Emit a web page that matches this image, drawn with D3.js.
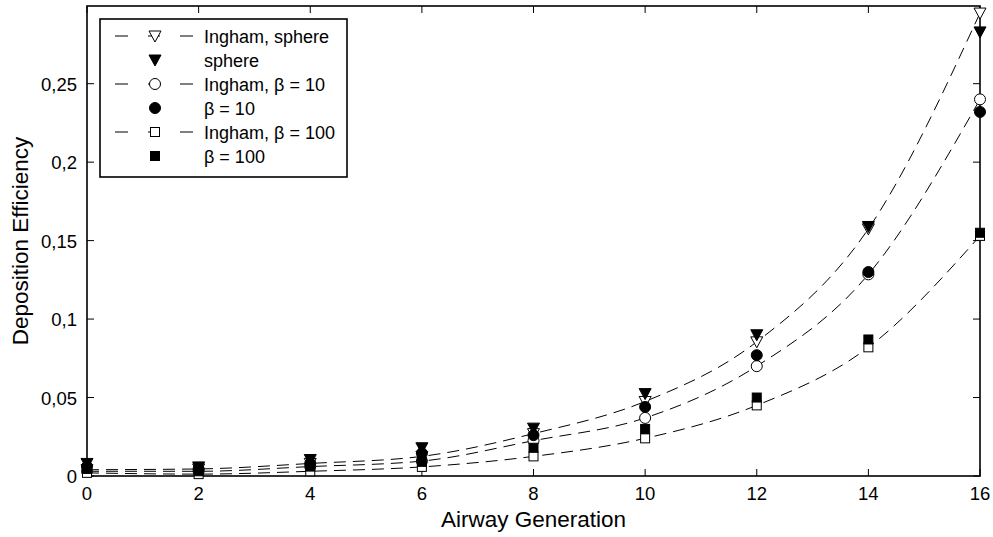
<!DOCTYPE html>
<html><head><meta charset="utf-8">
<script src="https://cdn.jsdelivr.net/npm/d3@7"></script>
<style>
html,body{margin:0;padding:0;background:#fff;}
text{font-family:Arial,"Liberation Sans",Helvetica,sans-serif;fill:#000;}
</style></head>
<body><svg id="chart" width="993" height="537"></svg>
<script>
const generations = [0, 2, 4, 6, 8, 10, 12, 14, 16];
const inghamSphere = [0.0040, 0.0045, 0.0080, 0.0125, 0.0270, 0.0475, 0.0855, 0.1575, 0.2950];
const sphere       = [0.0080, 0.0058, 0.0105, 0.0180, 0.0305, 0.0525, 0.0900, 0.1590, 0.2830];
const inghamB10    = [0.0030, 0.0030, 0.0060, 0.0095, 0.0225, 0.0370, 0.0700, 0.1285, 0.2400];
const beta10       = [0.0060, 0.0045, 0.0080, 0.0145, 0.0260, 0.0440, 0.0770, 0.1300, 0.2320];
const inghamB100   = [0.0020, 0.0012, 0.0030, 0.0058, 0.0125, 0.0240, 0.0450, 0.0820, 0.1530];
const beta100      = [0.0045, 0.0030, 0.0060, 0.0090, 0.0180, 0.0300, 0.0500, 0.0870, 0.1550];
const xTicks = [0, 2, 4, 6, 8, 10, 12, 14, 16];
const yTicks = [0, 0.05, 0.1, 0.15, 0.2, 0.25];
const yTickLabels = ["0", "0,05", "0,1", "0,15", "0,2", "0,25"];
const legendLabels = ["Ingham, sphere", "sphere", "Ingham, \u03B2 = 10", "\u03B2 = 10", "Ingham, \u03B2 = 100", "\u03B2 = 100"];

const svg = d3.select("#chart");
const L = 87, R = 980, T = 6, B = 476;
const x = d3.scaleLinear().domain([0, 16]).range([L, R]);
const y = d3.scaleLinear().domain([0, 0.2995]).range([B, T]);

const tri = "M-6,-5L6,-5L0,6Z";
function marker(g, type, filled, cx, cy) {
  const fill = filled ? "#000" : "#fff";
  if (type === "tri") {
    g.append("path").attr("d", tri).attr("transform", `translate(${cx},${cy})`)
      .attr("fill", fill).attr("stroke", "#000").attr("stroke-width", 1);
  } else if (type === "circ") {
    g.append("circle").attr("cx", cx).attr("cy", cy).attr("r", 5.5)
      .attr("fill", fill).attr("stroke", "#000").attr("stroke-width", 1);
  } else {
    g.append("rect").attr("x", cx - 4.5).attr("y", cy - 4.5).attr("width", 9).attr("height", 9)
      .attr("fill", fill).attr("stroke", "#000").attr("stroke-width", 1);
  }
}

// axes box and ticks
const axes = svg.append("g");
axes.append("rect").attr("x", L).attr("y", T).attr("width", R - L).attr("height", B - T)
  .attr("fill", "none").attr("stroke", "#000").attr("stroke-width", 1.6);
xTicks.forEach(t => {
  axes.append("line").attr("x1", x(t)).attr("x2", x(t)).attr("y1", B).attr("y2", B - 7).attr("stroke", "#000");
  axes.append("line").attr("x1", x(t)).attr("x2", x(t)).attr("y1", T).attr("y2", T + 7).attr("stroke", "#000");
  axes.append("text").attr("x", x(t)).attr("y", B + 24).attr("text-anchor", "middle")
    .attr("font-size", 18.5).text(t);
});
yTicks.forEach((t, i) => {
  axes.append("line").attr("x1", L).attr("x2", L + 7).attr("y1", y(t)).attr("y2", y(t)).attr("stroke", "#000");
  axes.append("line").attr("x1", R).attr("x2", R - 7).attr("y1", y(t)).attr("y2", y(t)).attr("stroke", "#000");
  axes.append("text").attr("x", L - 10).attr("y", y(t) + 7).attr("text-anchor", "end")
    .attr("font-size", 18.5).text(yTickLabels[i]);
});
svg.append("text").attr("x", (L + R) / 2).attr("y", 527).attr("text-anchor", "middle")
  .attr("font-size", 22.5).text("Airway Generation");
svg.append("text").attr("transform", `translate(28,${(T + B) / 2}) rotate(-90)`)
  .attr("text-anchor", "middle").attr("font-size", 22.5).text("Deposition Efficiency");

const line = d3.line().x((d, i) => x(generations[i])).y(d => y(d)).curve(d3.curveMonotoneX);
const series = [
  {vals: inghamSphere, type: "tri", filled: false, dashed: true},
  {vals: inghamB10, type: "circ", filled: false, dashed: true},
  {vals: inghamB100, type: "sq", filled: false, dashed: true},
  {vals: sphere, type: "tri", filled: true, dashed: false},
  {vals: beta10, type: "circ", filled: true, dashed: false},
  {vals: beta100, type: "sq", filled: true, dashed: false}
];
const plot = svg.append("g");
series.filter(s => s.dashed).forEach(s => {
  plot.append("path").attr("d", line(s.vals)).attr("fill", "none").attr("stroke", "#000")
    .attr("stroke-width", 1).attr("stroke-dasharray", "12,7");
});
series.forEach(s => {
  const g = plot.append("g");
  s.vals.forEach((v, i) => marker(g, s.type, s.filled, x(generations[i]), y(v)));
});

// legend
const lg = svg.append("g");
lg.append("rect").attr("x", 100).attr("y", 19).attr("width", 247).attr("height", 158)
  .attr("fill", "#fff").attr("stroke", "#000").attr("stroke-width", 1.6);
const legendSeries = [series[0], series[3], series[1], series[4], series[2], series[5]];
legendSeries.forEach((s, i) => {
  const cy = 36 + i * 24;
  if (s.dashed) {
    lg.append("line").attr("x1", 115).attr("x2", 193).attr("y1", cy).attr("y2", cy)
      .attr("stroke", "#000").attr("stroke-width", 1).attr("stroke-dasharray", "13,20,12,20,13");
  }
  marker(lg, s.type, s.filled, 155, cy);
  lg.append("text").attr("x", 204).attr("y", cy + 6.5).attr("font-size", 18).text(legendLabels[i]);
});
</script></body></html>
